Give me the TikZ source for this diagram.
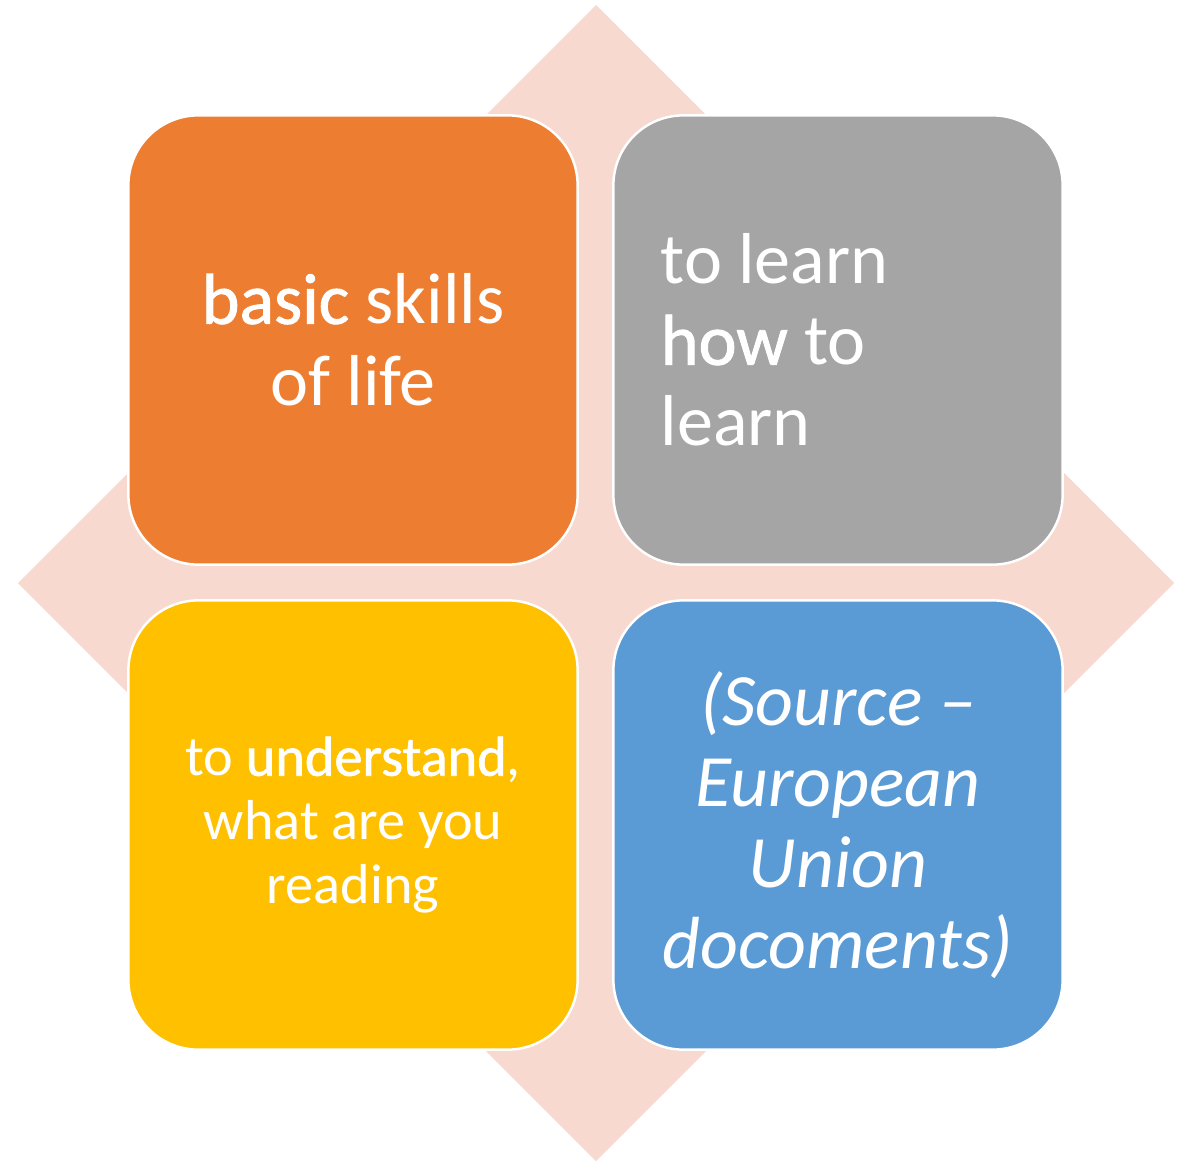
\documentclass[tikz,border=0pt]{standalone}
\usepackage{fontspec}
\setmainfont{Carlito}
\newfontfamily\heavyfamily{Carlito}[BoldFont={*}, BoldFeatures={FakeBold=1.2}]
\newcommand{\heavy}[1]{{\heavyfamily\bfseries #1}}
\definecolor{diamondPink}{HTML}{F7D9CF}
\definecolor{boxOrange}{HTML}{ED7D31}
\definecolor{boxGray}{HTML}{A5A5A5}
\definecolor{boxYellow}{HTML}{FFC000}
\definecolor{boxBlue}{HTML}{5B9BD5}

\begin{document}
\begin{tikzpicture}[x=0.01cm, y=-0.01cm,
    box/.style={draw=white, line width=0.7pt, rounded corners=0.7cm, minimum width=4.49cm, minimum height=4.49cm, inner sep=0pt},
    boxtext/.style={text=white, inner sep=0pt}]
        % Define Variables
        \def\lX{353}
        \def\rX{838}
        \def\tY{340}
        \def\bY{825}

        \useasboundingbox (0,0) rectangle (1189,1161);

        % Diamond behind
        \fill[diamondPink] (596,5) -- (1174,583) -- (596,1161) -- (18,583) -- cycle;

        % Four boxes
        \node[box, fill=boxOrange] at (\lX,\tY) (b-life) {};
        \node[box, fill=boxGray] at (\rX,\tY) (b-learn) {};
        \node[box, fill=boxYellow] at (\lX,\bY) (b-read) {};
        \node[box, fill=boxBlue] at (\rX,\bY) (b-source) {};

        % Texts
        \node[boxtext, align=center, font=\fontsize{20.5}{23.3}\selectfont] at (\lX,\tY) (t-life) {\heavy{basic} skills\\of life};
        \node[boxtext, align=left, anchor=west, font=\fontsize{20.5}{23}\selectfont] at (660,\tY) (t-learn) {to learn\\\heavy{how} to\\learn};
        \node[boxtext, align=center, font=\fontsize{16}{18.2}\selectfont] at (\lX,\bY) (t-read) {to \heavy{understand},\\what are you\\reading};
        \node[boxtext, align=center, font=\fontsize{21}{23}\selectfont\itshape] at (\rX,\bY) (t-source) {(Source --\\European\\Union\\docoments)};

    \end{tikzpicture}
\end{document}
